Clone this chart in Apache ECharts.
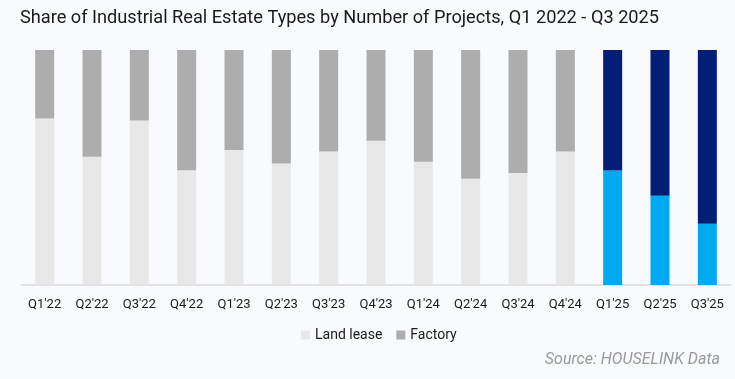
<!DOCTYPE html>
<html><head><meta charset="utf-8">
<script src="https://cdn.jsdelivr.net/npm/echarts@6/dist/echarts.min.js"></script>
<style>html,body{margin:0;padding:0;background:#f9fafe;}#c{width:735px;height:379px;}</style>
</head><body><div id="c"></div>
<script>
const categories = ["Q1'22","Q2'22","Q3'22","Q4'22","Q1'23","Q2'23","Q3'23","Q4'23","Q1'24","Q2'24","Q3'24","Q4'24","Q1'25","Q2'25","Q3'25"];
const landLease = [70.8,54.6,70.0,48.8,57.4,51.7,56.8,61.4,52.4,45.2,47.7,56.8,48.7,38.0,26.1];
const factory = landLease.map(v => +(100 - v).toFixed(1));
const highlightFrom = 12;
const colors = {land:'#e8e8e8', factory:'#adadad', landHi:'#00aaf1', factoryHi:'#041d77'};

const chart = echarts.init(document.getElementById('c'), null, {renderer:'canvas'});
const font = 'Roboto, "Liberation Sans", sans-serif';
chart.setOption({
  backgroundColor:'#f9fafe',
  animation:false,
  title:{text:'Share of Industrial Real Estate Types by Number of Projects, Q1 2022 - Q3 2025',left:15,top:4,
    textStyle:{fontFamily:font,fontSize:18.2,fontWeight:'normal',color:'#1a1a1a'}},
  graphic:[{type:'text',right:15,top:352,style:{text:'Source: HOUSELINK Data',fontFamily:font,fontSize:16,fontStyle:'italic',fill:'#9a9a9a'}}],
  legend:{bottom:32,left:296,itemWidth:9,itemHeight:9,itemGap:14,icon:'rect',
    textStyle:{fontFamily:font,fontSize:14,color:'#1a1a1a'},
    data:[{name:'Land lease',itemStyle:{color:colors.land}},{name:'Factory',itemStyle:{color:colors.factory}}]},
  grid:{left:21,right:4,top:50,bottom:94},
  xAxis:{type:'category',data:categories,
    axisLine:{lineStyle:{color:'#dcdcdc',width:1.5}},axisTick:{show:false},
    axisLabel:{fontFamily:font,fontSize:13,color:'#1a1a1a',margin:13,interval:0}},
  yAxis:{type:'value',min:0,max:100,show:false,splitLine:{show:false}},
  series:[
    {name:'Land lease',type:'bar',stack:'s',barWidth:19,
     data:landLease.map((v,i)=>({value:v,itemStyle:{color:i>=highlightFrom?colors.landHi:colors.land}}))},
    {name:'Factory',type:'bar',stack:'s',barWidth:19,
     data:factory.map((v,i)=>({value:v,itemStyle:{color:i>=highlightFrom?colors.factoryHi:colors.factory}}))}
  ]
});
</script></body></html>
